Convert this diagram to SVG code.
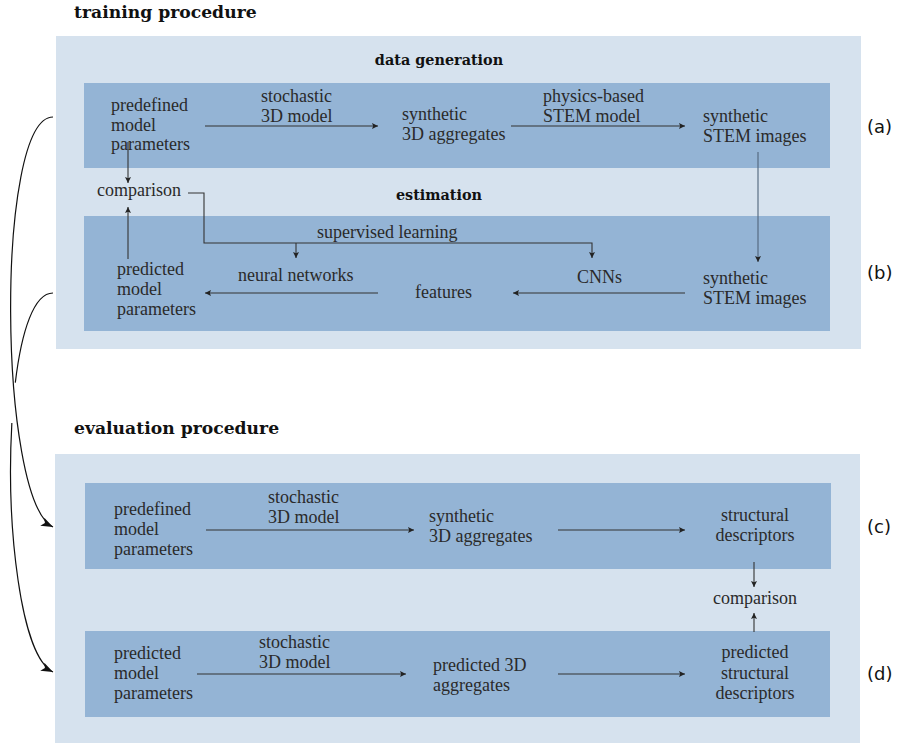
<svg xmlns="http://www.w3.org/2000/svg" width="901" height="745" viewBox="0 0 901 745">
<defs>
<style>
.outer{fill:#d6e2ee}
.inner{fill:#94b4d5}
.t{font-family:"Liberation Serif","Times New Roman",serif;font-size:18px;fill:#2a2a2a}
.tm{font-family:"Liberation Serif","Times New Roman",serif;font-size:18px;fill:#2a2a2a;text-anchor:middle}
.h1{font-family:"DejaVu Serif",serif;font-weight:bold;font-size:17.2px;fill:#111}
.h2{font-family:"DejaVu Serif",serif;font-weight:bold;font-size:14.4px;fill:#111;text-anchor:middle}
.lab{font-family:"DejaVu Sans",sans-serif;font-size:18px;fill:#111}
.ln{fill:none;stroke:#333;stroke-width:1.1}
.cv{fill:none;stroke:#111;stroke-width:1.2}
</style>
<marker id="ah" markerUnits="userSpaceOnUse" markerWidth="7" markerHeight="6" refX="6" refY="3" orient="auto">
<path d="M0,0 L6,3 L0,6 L1.2,3 z" fill="#222"/>
</marker>
<marker id="big" markerUnits="userSpaceOnUse" markerWidth="14" markerHeight="10" refX="12" refY="4.5" orient="auto">
<path d="M0,0 L12,4.5 L0,9 L3,4.5 z" fill="#111"/>
</marker>
</defs>
<rect width="901" height="745" fill="#fff"/>

<text class="h1" x="74" y="18">training procedure</text>
<rect class="outer" x="56" y="36" width="805" height="313"/>
<rect class="inner" x="84" y="83" width="746" height="85"/>
<rect class="inner" x="84" y="216" width="746" height="115"/>
<text class="h2" x="439" y="65">data generation</text>
<text class="h2" x="439" y="200">estimation</text>

<text class="h1" x="74" y="434">evaluation procedure</text>
<rect class="outer" x="55" y="454" width="805" height="289"/>
<rect class="inner" x="85" y="483" width="746" height="86"/>
<rect class="inner" x="85" y="631" width="745" height="86"/>

<g id="n-predef1"><text class="t" x="111" y="111">predefined</text><text class="t" x="111" y="131">model</text><text class="t" x="111" y="150">parameters</text></g>
<g id="n-synagg1"><text class="t" x="402" y="120">synthetic</text><text class="t" x="402" y="140">3D aggregates</text></g>
<g id="n-synstem1"><text class="t" x="703" y="122">synthetic</text><text class="t" x="703" y="142">STEM images</text></g>
<g id="n-comp1"><text class="t" x="97" y="196">comparison</text></g>
<g id="n-pred1"><text class="t" x="117" y="275">predicted</text><text class="t" x="117" y="295">model</text><text class="t" x="117" y="315">parameters</text></g>
<g id="n-nn"><text class="t" x="238" y="281">neural networks</text></g>
<g id="n-feat"><text class="t" x="415" y="298">features</text></g>
<g id="n-cnn"><text class="t" x="577" y="283">CNNs</text></g>
<g id="n-synstem2"><text class="t" x="703" y="284">synthetic</text><text class="t" x="703" y="304">STEM images</text></g>

<g id="n-predef2"><text class="t" x="114" y="515">predefined</text><text class="t" x="114" y="535">model</text><text class="t" x="114" y="555">parameters</text></g>
<g id="n-synagg2"><text class="t" x="429" y="522">synthetic</text><text class="t" x="429" y="542">3D aggregates</text></g>
<g id="n-struct"><text class="tm" x="755" y="521">structural</text><text class="tm" x="755" y="541">descriptors</text></g>
<g id="n-comp2"><text class="tm" x="755" y="604">comparison</text></g>
<g id="n-pred2"><text class="t" x="114" y="659">predicted</text><text class="t" x="114" y="679">model</text><text class="t" x="114" y="699">parameters</text></g>
<g id="n-predagg"><text class="t" x="433" y="671">predicted 3D</text><text class="t" x="433" y="691">aggregates</text></g>
<g id="n-predstruct"><text class="tm" x="755" y="658">predicted</text><text class="tm" x="755" y="679">structural</text><text class="tm" x="755" y="699">descriptors</text></g>

<g id="labels">
<text class="lab" x="867" y="133">(a)</text>
<text class="lab" x="867" y="279">(b)</text>
<text class="lab" x="867" y="533">(c)</text>
<text class="lab" x="867" y="680">(d)</text>
</g>

<g id="connectors">
<line class="ln" x1="205" y1="126" x2="378" y2="126" marker-end="url(#ah)"/>
<text class="t" x="261" y="102">stochastic</text><text class="t" x="261" y="122">3D model</text>
<line class="ln" x1="511" y1="126" x2="685" y2="126" marker-end="url(#ah)"/>
<text class="t" x="543" y="102">physics-based</text><text class="t" x="543" y="122">STEM model</text>
<line class="ln" x1="758" y1="152" x2="758" y2="262" style="stroke:#50647b" marker-end="url(#ah)"/>
<line class="ln" x1="128" y1="142" x2="128" y2="183" marker-end="url(#ah)"/>
<line class="ln" x1="128" y1="259" x2="128" y2="207" marker-end="url(#ah)"/>
<polyline class="ln" points="188,193 204,193 204,243 592,243 592,258" marker-end="url(#ah)"/>
<line class="ln" x1="296" y1="243" x2="296" y2="258" marker-end="url(#ah)"/>
<text class="t" x="317" y="238">supervised learning</text>
<line class="ln" x1="685" y1="293" x2="513" y2="293" marker-end="url(#ah)"/>
<line class="ln" x1="378" y1="293" x2="205" y2="293" marker-end="url(#ah)"/>

<line class="ln" x1="206" y1="530" x2="414" y2="530" marker-end="url(#ah)"/>
<text class="t" x="268" y="503">stochastic</text><text class="t" x="268" y="523">3D model</text>
<line class="ln" x1="558" y1="530" x2="685" y2="530" marker-end="url(#ah)"/>
<line class="ln" x1="754" y1="562" x2="754" y2="587" marker-end="url(#ah)"/>
<line class="ln" x1="754" y1="632" x2="754" y2="613" marker-end="url(#ah)"/>
<line class="ln" x1="197" y1="674" x2="406" y2="674" marker-end="url(#ah)"/>
<text class="t" x="259" y="648">stochastic</text><text class="t" x="259" y="668">3D model</text>
<line class="ln" x1="558" y1="674" x2="685" y2="674" marker-end="url(#ah)"/>

<path class="cv" d="M53,117 C-5,117 -2,500 53,527" marker-end="url(#big)"/>
<path class="cv" d="M53,293 C-5,293 -2,645 53,672" pathLength="100" stroke-dasharray="25.6 10.1 100" marker-end="url(#big)"/>
</g>
</svg>
